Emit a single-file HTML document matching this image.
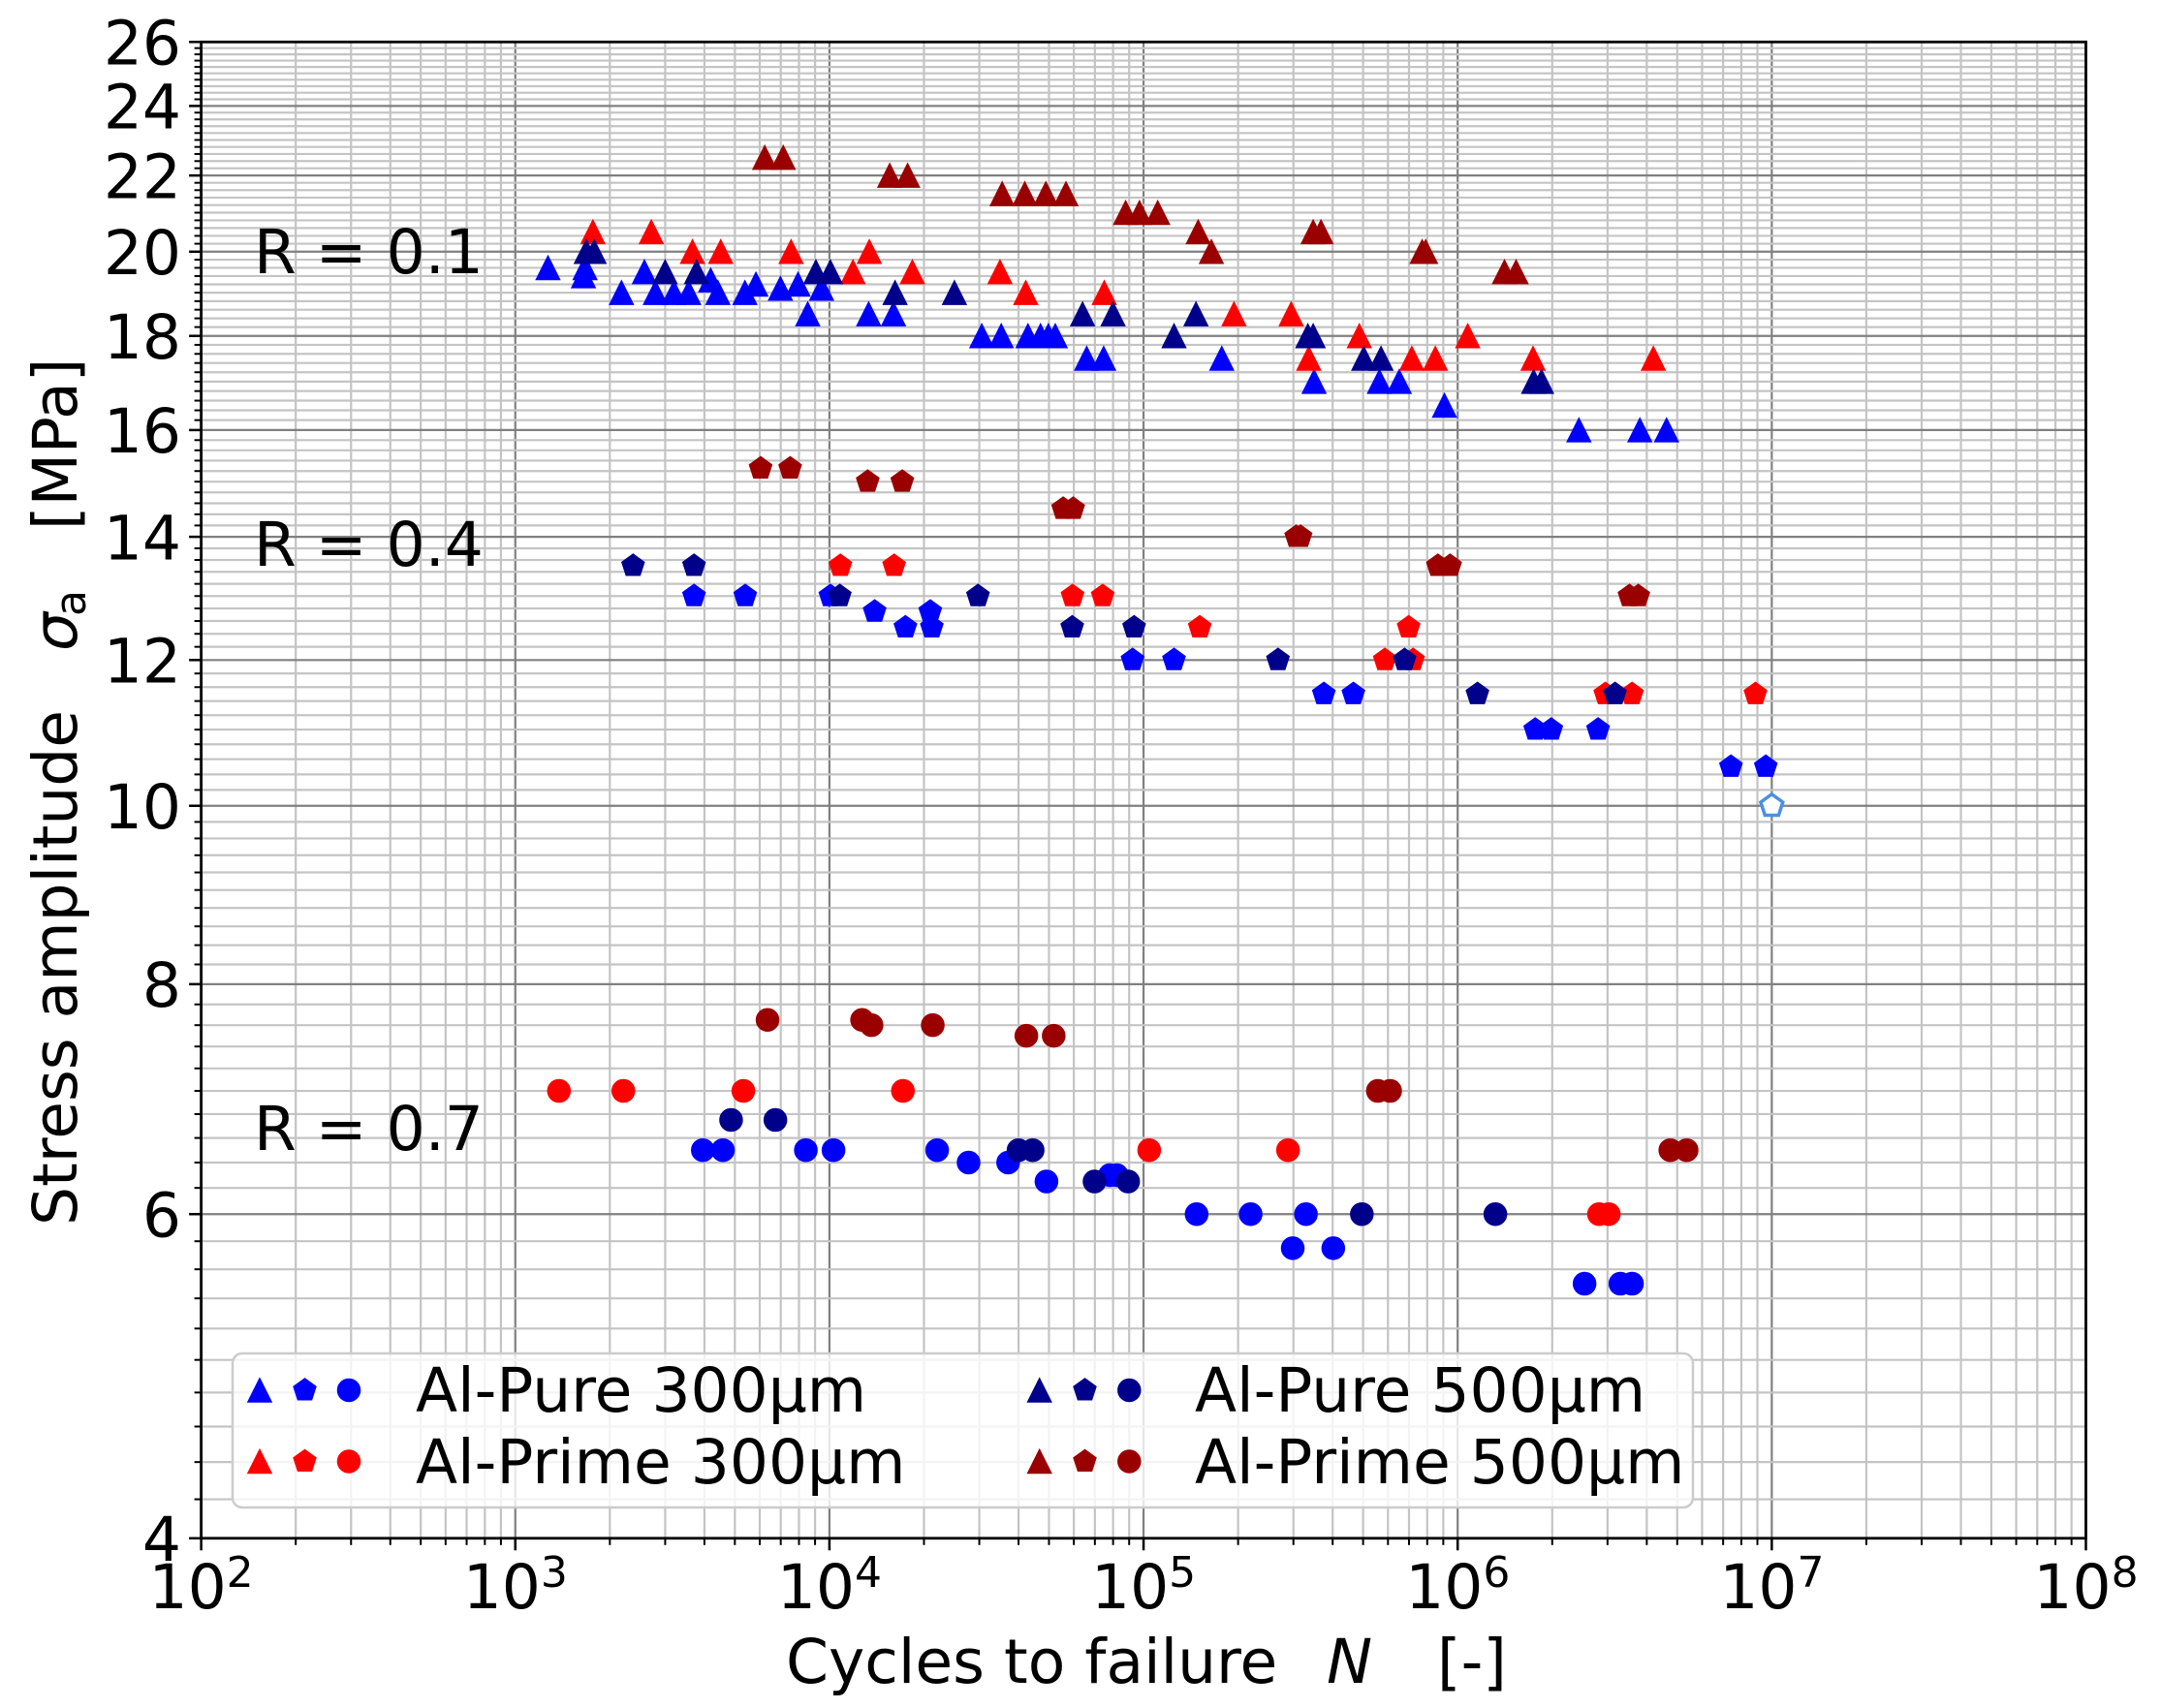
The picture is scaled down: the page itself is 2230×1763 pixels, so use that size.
<!DOCTYPE html>
<html>
<head>
<meta charset="utf-8">
<style>
  html, body { margin: 0; padding: 0; background: #ffffff; }
  svg { display: block; }
  text { font-family: "DejaVu Sans", "Liberation Sans", sans-serif; fill: #000; }
</style>
</head>
<body>
<svg id="chart" xmlns="http://www.w3.org/2000/svg" width="2230" height="1763" viewBox="0 0 2230 1763">
  <rect x="0" y="0" width="2230" height="1763" fill="#ffffff"/>
  <g id="grid"></g>
  <g id="markers"></g>
  <g id="ticks"></g>
  <rect x="207.6" y="43.3" width="1944.9" height="1544.5" fill="none" stroke="#000" stroke-width="2.8"/>

  <!-- y tick labels -->
  <g font-size="63" text-anchor="end" id="ylabels">
    <text x="187" y="66.5">26</text>
    <text x="187" y="132.6">24</text>
    <text x="187" y="204.4">22</text>
    <text x="187" y="283.1">20</text>
    <text x="187" y="370.0">18</text>
    <text x="187" y="467.2">16</text>
    <text x="187" y="577.4">14</text>
    <text x="187" y="704.6">12</text>
    <text x="187" y="855.1">10</text>
    <text x="187" y="1039.2">8</text>
    <text x="187" y="1276.6">6</text>
    <text x="187" y="1611.0">4</text>
  </g>

  <!-- x tick labels -->
  <g font-size="63" text-anchor="middle">
    <text x="207.6" y="1660">10<tspan font-size="44" dy="-22">2</tspan></text>
    <text x="531.8" y="1660">10<tspan font-size="44" dy="-22">3</tspan></text>
    <text x="855.9" y="1660">10<tspan font-size="44" dy="-22">4</tspan></text>
    <text x="1180.1" y="1660">10<tspan font-size="44" dy="-22">5</tspan></text>
    <text x="1504.3" y="1660">10<tspan font-size="44" dy="-22">6</tspan></text>
    <text x="1828.4" y="1660">10<tspan font-size="44" dy="-22">7</tspan></text>
    <text x="2152.5" y="1660">10<tspan font-size="44" dy="-22">8</tspan></text>
  </g>

  <!-- x axis label -->
  <g font-size="63">
    <text x="811" y="1737">Cycles to failure</text>
    <text x="1369" y="1737" font-style="italic">N</text>
    <text x="1483" y="1737">[-]</text>
  </g>

  <!-- y axis label (rotated) -->
  <g transform="translate(79,0) rotate(-90)" font-size="63">
    <text x="-1265" y="0">Stress amplitude</text>
    <text x="-672" y="0" font-style="italic">σ</text>
    <text x="-636" y="9" font-size="44">a</text>
    <text x="-547" y="0">[MPa]</text>
  </g>

  <!-- R annotations -->
  <g font-size="63">
    <text x="262" y="282">R = 0.1</text>
    <text x="262" y="584">R = 0.4</text>
    <text x="262" y="1187">R = 0.7</text>
  </g>

  <!-- legend -->
  <rect x="240" y="1397" width="1507" height="159" rx="10" ry="10" fill="#ffffff" fill-opacity="0.8" stroke="#cccccc" stroke-width="2.5"/>
  <g id="legendmarkers"></g>
  <g font-size="63">
    <text x="429" y="1457">Al-Pure 300μm</text>
    <text x="429" y="1531">Al-Prime 300μm</text>
    <text x="1233" y="1457">Al-Pure 500μm</text>
    <text x="1233" y="1531">Al-Prime 500μm</text>
  </g>
</svg>

<script>
(function(){
  var NS = "http://www.w3.org/2000/svg";
  var L = 207.6, R = 2152.5, T = 43.3, B = 1587.8;
  function X(lx){ return L + (lx - 2) * (R - L) / 6; }
  function Y(s){ return T + (B - T) * Math.log10(26 / s) / Math.log10(26 / 4); }
  function el(name, attrs, parent){
    var e = document.createElementNS(NS, name);
    for (var k in attrs) e.setAttribute(k, attrs[k]);
    parent.appendChild(e);
    return e;
  }
  var grid = document.getElementById("grid");
  var ticks = document.getElementById("ticks");
  var majC = "#808080", minC = "#c4c4c4";

  // x major grid
  for (var n = 2; n <= 8; n++) {
    var x = X(n);
    el("line", {x1:x, y1:T, x2:x, y2:B, stroke:majC, "stroke-width":2.2}, grid);
  }
  // x minor grid
  for (var n = 2; n < 8; n++) {
    for (var k = 2; k <= 9; k++) {
      var x = X(n + Math.log10(k));
      el("line", {x1:x, y1:T, x2:x, y2:B, stroke:minC, "stroke-width":2.2}, grid);
    }
  }
  // y major grid
  for (var s = 4; s <= 26; s += 2) {
    var y = Y(s);
    el("line", {x1:L, y1:y, x2:R, y2:y, stroke:majC, "stroke-width":2.2}, grid);
  }
  // y minor grid
  for (var i = 20; i <= 130; i++) {
    if (i % 10 === 0) continue;
    var s = i / 5;
    var y = Y(s);
    el("line", {x1:L, y1:y, x2:R, y2:y, stroke:minC, "stroke-width":2.2}, grid);
  }

  // ticks
  for (var n = 2; n <= 8; n++) {
    var x = X(n);
    el("line", {x1:x, y1:B, x2:x, y2:B + 12.5, stroke:"#000", "stroke-width":2.5}, ticks);
  }
  for (var n = 2; n < 8; n++) {
    for (var k = 2; k <= 9; k++) {
      var x = X(n + Math.log10(k));
      el("line", {x1:x, y1:B, x2:x, y2:B + 7, stroke:"#000", "stroke-width":2}, ticks);
    }
  }
  for (var s = 4; s <= 26; s += 2) {
    var y = Y(s);
    el("line", {x1:L - 12.5, y1:y, x2:L, y2:y, stroke:"#000", "stroke-width":2.5}, ticks);
  }
  for (var i = 20; i <= 130; i++) {
    if (i % 10 === 0) continue;
    var y = Y(i / 5);
    el("line", {x1:L - 7, y1:y, x2:L, y2:y, stroke:"#000", "stroke-width":2}, ticks);
  }

  // markers
  var mk = document.getElementById("markers");
  function tri(cx, cy, c, parent){
    var h = 12;
    el("polygon", {points:(cx)+","+(cy-h)+" "+(cx-h)+","+(cy+h)+" "+(cx+h)+","+(cy+h),
      fill:c, stroke:c, "stroke-width":1.5, "stroke-linejoin":"miter"}, parent);
  }
  function pent(cx, cy, c, parent, hollow){
    var r = 12, pts = [];
    for (var k = 0; k < 5; k++) {
      var a = (-90 + 72 * k) * Math.PI / 180;
      pts.push((cx + r * Math.cos(a)).toFixed(2) + "," + (cy + r * Math.sin(a)).toFixed(2));
    }
    if (hollow) {
      el("polygon", {points:pts.join(" "), fill:"#ffffff", stroke:c, "stroke-width":3.5}, parent);
    } else {
      el("polygon", {points:pts.join(" "), fill:c, stroke:c, "stroke-width":1.5}, parent);
    }
  }
  function circ(cx, cy, c, parent){
    el("circle", {cx:cx, cy:cy, r:11.5, fill:c, stroke:c, "stroke-width":1.5}, parent);
  }

  var BLUE = "#0000ff", NAVY = "#00008b", RED = "#ff0000", DRED = "#9b0000";

  var data = [
    // R=0.1 triangles
    ["t", BLUE, [[3.104,19.6],[3.222,19.6],[3.217,19.4],[3.338,19],[3.411,19.5],[3.446,19],[3.505,19],[3.552,19],[3.622,19.3],[3.645,19],[3.731,19],[3.766,19.2],[3.844,19.1],[3.900,19.2],[3.975,19.1],[3.931,18.5],[4.125,18.5],[4.204,18.5],[4.485,18],[4.547,18],[4.632,18],[4.672,18],[4.697,18],[4.719,18],[4.819,17.5],[4.873,17.5],[5.249,17.5],[5.543,17],[5.751,17],[5.814,17],[5.958,16.5],[6.386,16],[6.580,16],[6.665,16]]],
    ["t", RED, [[3.247,20.5],[3.433,20.5],[3.564,20],[3.654,20],[3.878,20],[4.127,20],[4.075,19.5],[4.264,19.5],[4.543,19.5],[4.625,19],[4.875,19],[5.288,18.5],[5.470,18.5],[5.687,18],[6.032,18],[5.526,17.5],[5.854,17.5],[5.929,17.5],[6.240,17.5],[6.623,17.5]]],
    ["t", NAVY, [[3.226,20],[3.251,20],[3.477,19.5],[3.577,19.5],[3.957,19.5],[4.003,19.5],[4.209,19],[4.398,19],[4.806,18.5],[4.903,18.5],[5.167,18.5],[5.097,18],[5.523,18],[5.540,18],[5.701,17.5],[5.756,17.5],[6.242,17],[6.267,17]]],
    ["t", DRED, [[3.794,22.5],[3.853,22.5],[4.192,22],[4.249,22],[4.550,21.5],[4.622,21.5],[4.689,21.5],[4.753,21.5],[4.943,21],[4.987,21],[5.045,21],[5.174,20.5],[5.216,20],[5.540,20.5],[5.565,20.5],[5.887,20],[5.898,20],[6.149,19.5],[6.186,19.5]]],
    // R=0.4 pentagons
    ["p", BLUE, [[3.569,13],[3.732,13],[4.003,13],[4.144,12.75],[4.321,12.75],[4.326,12.5],[4.242,12.5],[4.965,12],[5.097,12],[5.574,11.5],[5.668,11.5],[6.247,11],[6.298,11],[6.447,11],[6.870,10.5],[6.981,10.5]]],
    ["p", RED, [[4.035,13.5],[4.206,13.5],[4.774,13],[4.870,13],[5.179,12.5],[5.844,12.5],[5.768,12],[5.858,12],[6.470,11.5],[6.555,11.5],[6.948,11.5]]],
    ["p", NAVY, [[3.375,13.5],[3.569,13.5],[4.033,13],[4.473,13],[4.773,12.5],[4.970,12.5],[5.428,12],[5.831,12],[6.063,11.5],[6.501,11.5]]],
    ["p", DRED, [[3.781,15.25],[3.875,15.25],[4.122,15],[4.232,15],[4.744,14.5],[4.776,14.5],[5.486,14],[5.500,14],[5.937,13.5],[5.976,13.5],[6.547,13],[6.575,13]]],
    // R=0.7 circles
    ["c", BLUE, [[3.597,6.5],[3.661,6.5],[3.925,6.5],[4.013,6.5],[4.343,6.5],[4.443,6.4],[4.569,6.4],[4.691,6.25],[4.893,6.3],[4.915,6.3],[5.169,6],[5.341,6],[5.517,6],[5.475,5.75],[5.604,5.75],[6.404,5.5],[6.518,5.5],[6.555,5.5]]],
    ["c", RED, [[3.139,7],[3.344,7],[3.726,7],[4.234,7],[5.018,6.5],[5.460,6.5],[6.450,6],[6.481,6]]],
    ["c", NAVY, [[3.687,6.75],[3.828,6.75],[4.602,6.5],[4.647,6.5],[4.844,6.25],[4.951,6.25],[5.695,6],[6.120,6]]],
    ["c", DRED, [[3.803,7.65],[4.104,7.65],[4.134,7.6],[4.329,7.6],[4.627,7.5],[4.714,7.5],[5.746,7],[5.785,7],[6.677,6.5],[6.729,6.5]]]
  ];
  data.forEach(function(ser){
    var type = ser[0], c = ser[1];
    ser[2].forEach(function(p){
      var cx = X(p[0]), cy = Y(p[1]);
      if (type === "t") tri(cx, cy, c, mk);
      else if (type === "p") pent(cx, cy, c, mk, false);
      else circ(cx, cy, c, mk);
    });
  });
  // hollow pentagon (runout)
  pent(X(7.0), Y(10.0), "#4a90e2", mk, true);

  // legend markers
  var lg = document.getElementById("legendmarkers");
  var rows = [
    [268, 314.5, 360, 1435, BLUE],
    [268, 314.5, 360, 1508.5, RED],
    [1072.7, 1119.5, 1165.3, 1435, NAVY],
    [1072.7, 1119.5, 1165.3, 1508.5, DRED]
  ];
  rows.forEach(function(r){
    tri(r[0], r[3], r[4], lg);
    pent(r[1], r[3], r[4], lg, false);
    circ(r[2], r[3], r[4], lg);
  });
})();
</script>
</body>
</html>
